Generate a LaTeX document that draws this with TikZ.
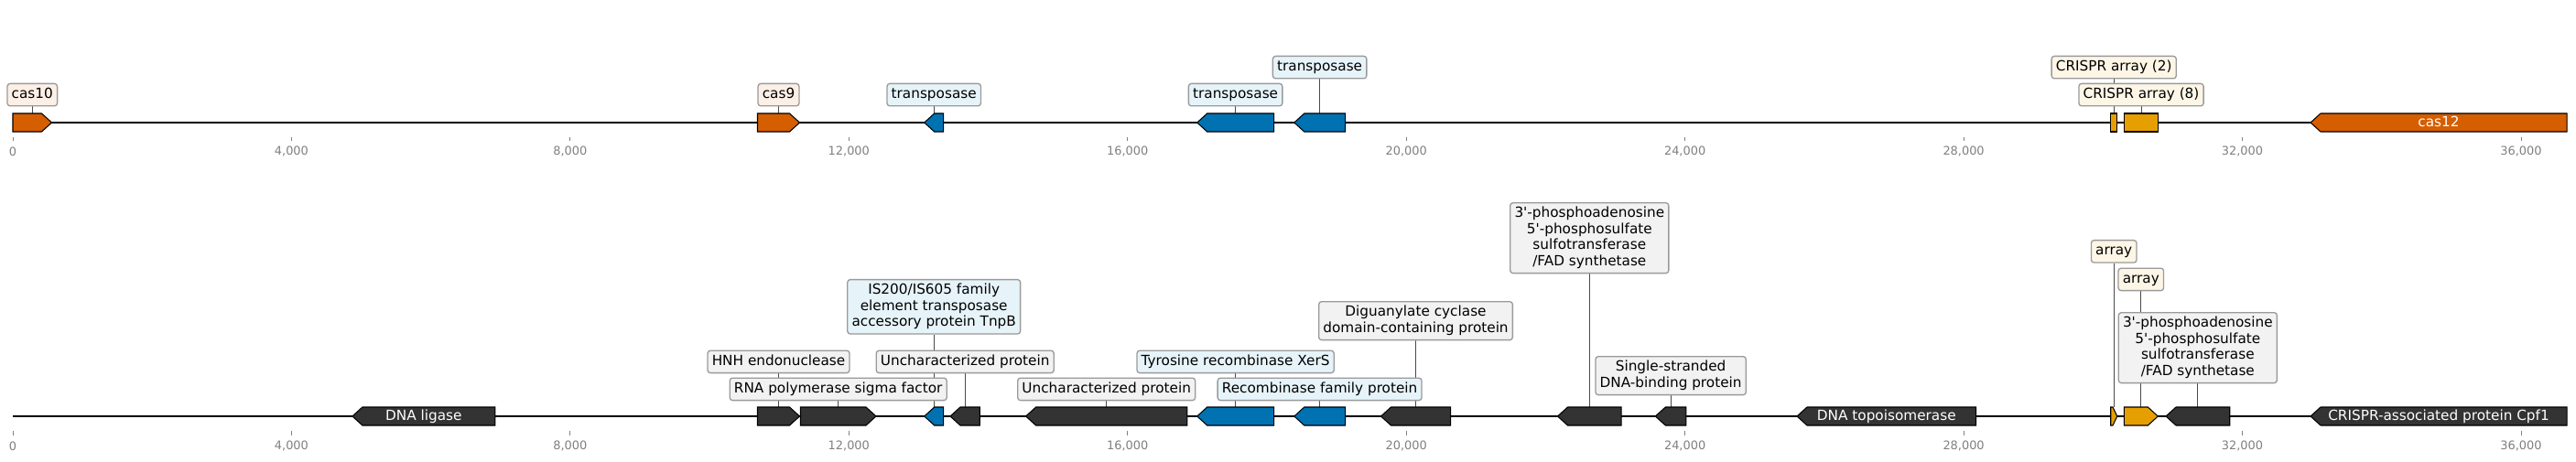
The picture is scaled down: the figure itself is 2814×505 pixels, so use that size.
\documentclass[tikz,border=0pt]{standalone}
\usepackage{fontspec}
\newfontfamily\dvs{DejaVu Sans}
\usetikzlibrary{backgrounds}
\definecolor{cOr}{HTML}{D55E00}
\definecolor{cBl}{HTML}{0072B2}
\definecolor{cYe}{HTML}{E69F00}
\definecolor{cDk}{HTML}{333333}
\definecolor{lOr}{HTML}{FCEFE6}
\definecolor{lBl}{HTML}{E6F4FA}
\definecolor{lYe}{HTML}{FDF6E6}
\definecolor{lGr}{HTML}{F2F2F2}
\definecolor{labborder}{HTML}{9A9A9A}
\definecolor{leadc}{HTML}{4A4A4A}
\definecolor{tickc}{HTML}{808080}
\newcommand\lblfont{\dvs\fontsize{11}{12.6}\selectfont}
\newcommand\tkfont{\dvs\fontsize{9.3}{11}\selectfont}
\newcommand\ls{\rule[-2.6pt]{0pt}{11pt}}
\tikzset{
  feat/.style={draw=black, line width=0.75pt, line join=miter},
  lab/.style={draw=labborder, line width=0.95pt, rounded corners=2.2pt,
    inner xsep=3.4pt, inner ysep=3.3pt, align=center, font=\lblfont, anchor=south},
  lead/.style={draw=leadc, line width=0.6pt},
  trk/.style={draw=black, line width=1.44pt},
  tk/.style={draw=tickc, line width=0.6pt},
  tklab/.style={text=tickc, font=\tkfont, inner sep=0pt},
  inlab/.style={text=white, font=\lblfont, inner sep=0pt, text height=8.4pt, text depth=2.6pt}
}
% name, xl, xr, y, colour
\newcommand\genR[5]{%
  \draw[feat,fill=#5] ({#2},{#4}) -- ({#2+11},{#4-10}) -- ({#3},{#4-10}) -- ({#3},{#4+10}) -- ({#2+11},{#4+10}) -- cycle;
  \coordinate (#1) at ({(#2+#3)/2},{#4-10});}
\newcommand\genF[5]{%
  \draw[feat,fill=#5] ({#2},{#4-10}) -- ({#3-11},{#4-10}) -- ({#3},{#4}) -- ({#3-11},{#4+10}) -- ({#2},{#4+10}) -- cycle;
  \coordinate (#1) at ({(#2+#3)/2},{#4-10});}
\newcommand\genB[5]{%
  \draw[feat,fill=#5] ({#2},{#4-10}) rectangle ({#3},{#4+10});
  \coordinate (#1) at ({(#2+#3)/2},{#4-10});}
\begin{document}
\begin{tikzpicture}[x=0.72pt,y=-0.72pt]
\useasboundingbox (0,0) rectangle (2814,505);
% tracks
\draw[trk] (14,134) -- (2804,134);
\draw[trk] (14,455) -- (2804,455);
% ticks
\foreach \k/\t in {0/0,1/{4,000},2/{8,000},3/{12,000},4/{16,000},5/{20,000},6/{24,000},7/{28,000},8/{32,000},9/{36,000}}{
  \draw[tk] ({14+\k*304.44},150) -- ({14+\k*304.44},154.5);
  \node[tklab] at ({14+\k*304.44},165.7) {\t};
  \draw[tk] ({14+\k*304.44},471) -- ({14+\k*304.44},475.5);
  \node[tklab] at ({14+\k*304.44},487.7) {\t};
}
% ---------- top track features ----------
\genF{tA}{14}{56.5}{134}{cOr}
\genF{tB}{827.5}{873.5}{134}{cOr}
\genR{tC}{1009.7}{1030.7}{134}{cBl}
\genR{tD}{1307.7}{1391.6}{134}{cBl}
\genR{tE}{1413.8}{1469.5}{134}{cBl}
\genB{tF}{2305.8}{2312.7}{134}{cYe}
\genB{tG}{2320.5}{2357.5}{134}{cYe}
\genR{tH}{2524}{2804}{134}{cOr}
\node[inlab] (tHl) at (2664,134) {cas12};
% top labels
\node[lab,fill=lOr] (LtA) at (35.3,116.5) {\ls cas10};
\node[lab,fill=lOr] (LtB) at (850.5,116.5) {\ls cas9};
\node[lab,fill=lBl] (LtC) at (1020.2,116.5) {\ls transposase};
\node[lab,fill=lBl] (LtD) at (1349.6,116.5) {\ls transposase};
\node[lab,fill=lBl] (LtE) at (1441.6,86.5) {\ls transposase};
\node[lab,fill=lYe] (LtF) at (2309.2,86.5) {\ls CRISPR array (2)};
\node[lab,fill=lYe] (LtG) at (2339,116.5) {\ls CRISPR array (8)};
% ---------- bottom track features ----------
\genR{bA}{384.9}{540.8}{455}{cDk}
\node[inlab] (bAl) at (462.9,455) {DNA ligase};
\genF{bB}{827.5}{873.5}{455}{cDk}
\genF{bC}{874.5}{957}{455}{cDk}
\genR{bD}{1009.7}{1030.7}{455}{cBl}
\genR{bE}{1038}{1070.3}{455}{cDk}
\genR{bF}{1120.6}{1296.9}{455}{cDk}
\genR{bG}{1307.7}{1391.6}{455}{cBl}
\genR{bH}{1413.8}{1469.5}{455}{cBl}
\genR{bI}{1508.5}{1584.6}{455}{cDk}
\genR{bJ}{1701.5}{1771.1}{455}{cDk}
\genR{bK}{1808.3}{1841.9}{455}{cDk}
\genR{bL}{1963}{2158.6}{455}{cDk}
\node[inlab] (bLl) at (2060.8,455) {DNA topoisomerase};
\draw[feat,fill=cYe] (2305.7,445) -- (2308,445) -- (2312.7,455) -- (2308,465) -- (2305.7,465) -- cycle;
\coordinate (bM) at (2309.2,445);
\genF{bN}{2320.3}{2357.3}{455}{cYe}
\genR{bO}{2366}{2435.7}{455}{cDk}
\genR{bP}{2524}{2804}{455}{cDk}
\node[inlab] (bPl) at (2664,455) {CRISPR-associated protein Cpf1};
% bottom labels
\node[lab,fill=lGr] (LbB) at (850.5,408.3) {\ls HNH endonuclease};
\node[lab,fill=lGr] (LbC) at (915.7,438.3) {\ls RNA polymerase sigma factor};
\node[lab,fill=lBl] (LbD) at (1020.2,365.7) {\ls IS200/IS605 family\\\ls element transposase\\\ls accessory protein TnpB};
\node[lab,fill=lGr] (LbE) at (1054.2,408.3) {\ls Uncharacterized protein};
\node[lab,fill=lGr] (LbF) at (1208.7,438.3) {\ls Uncharacterized protein};
\node[lab,fill=lBl] (LbG) at (1349.6,408.3) {\ls Tyrosine recombinase XerS};
\node[lab,fill=lBl] (LbH) at (1441.6,438.3) {\ls Recombinase family protein};
\node[lab,fill=lGr] (LbI) at (1546.5,372.3) {\ls Diguanylate cyclase\\\ls domain-containing protein};
\node[lab,fill=lGr] (LbJ) at (1736.3,299.3) {\ls 3'-phosphoadenosine\\\ls 5'-phosphosulfate\\\ls sulfotransferase\\\ls /FAD synthetase};
\node[lab,fill=lGr] (LbK) at (1825.1,432.3) {\ls Single-stranded\\\ls DNA-binding protein};
\node[lab,fill=lYe] (LbM) at (2309.2,287.7) {\ls array};
\node[lab,fill=lYe] (LbN) at (2338.8,318.3) {\ls array};
\node[lab,fill=lGr] (LbO) at (2400.8,419.3) {\ls 3'-phosphoadenosine\\\ls 5'-phosphosulfate\\\ls sulfotransferase\\\ls /FAD synthetase};
% leader lines
\begin{scope}[on background layer]
\foreach \a in {tA,tB,tC,tD,tE,tF,tG,bB,bC,bD,bE,bF,bG,bH,bI,bJ,bK,bM,bN,bO}{
  \draw[lead] (L\a.south) -- (L\a.south |- \a);
}
\end{scope}
\end{tikzpicture}
\end{document}
